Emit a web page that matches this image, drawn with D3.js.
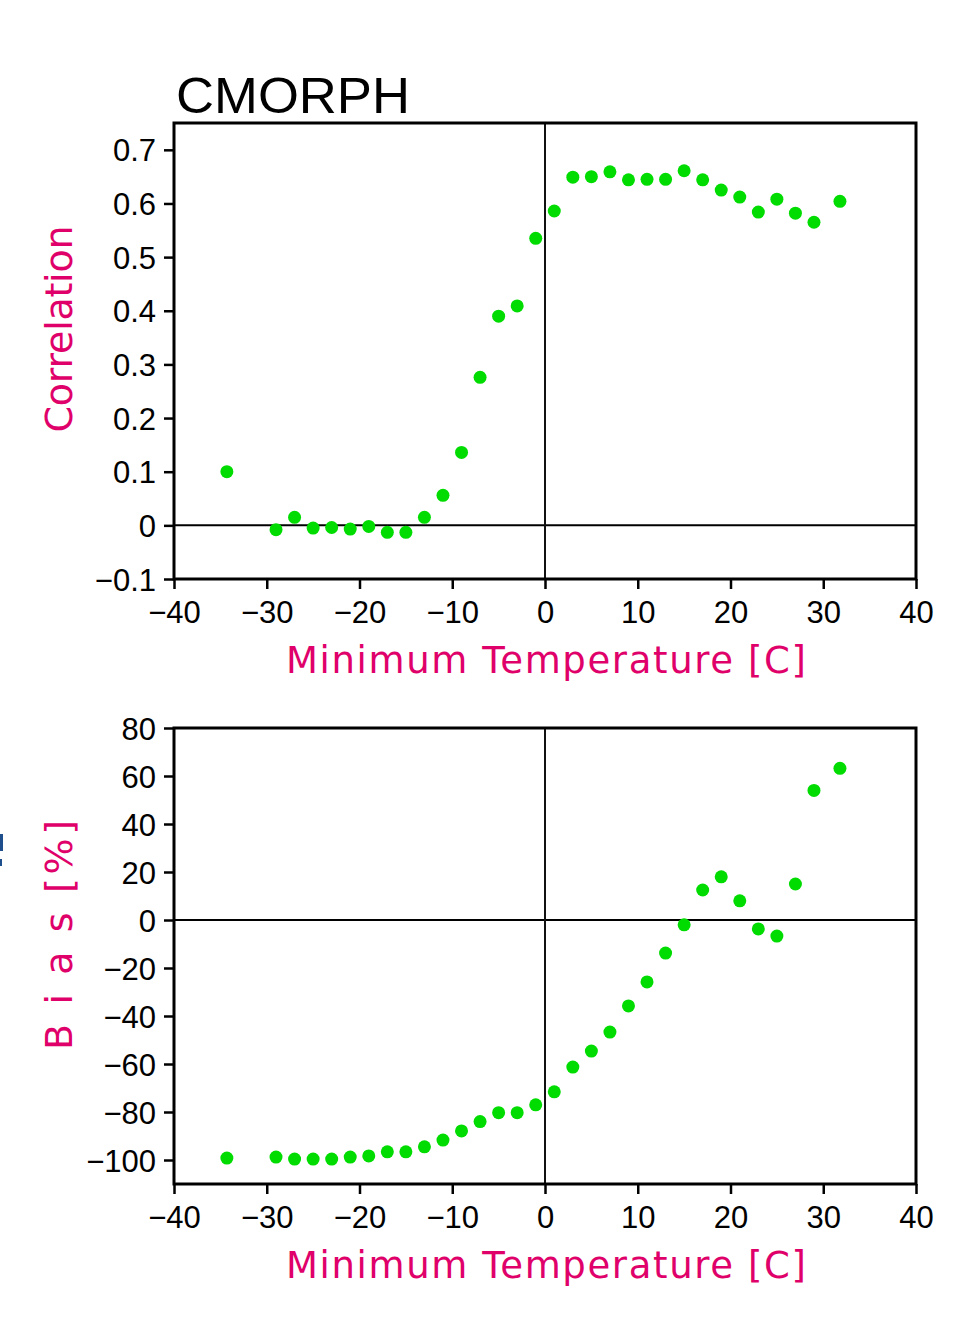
<!DOCTYPE html>
<html>
<head>
<meta charset="utf-8">
<script src="https://cdn.jsdelivr.net/npm/d3@7"></script>
<style>
  body { margin: 0; background: #fff; }
  svg { display: block; }
</style>
</head>
<body>
<div id="graph-container"></div>
<script>

// data
var min_temp = [-34.3, -29, -27, -25, -23, -21, -19, -17, -15, -13, -11, -9, -7, -5, -3, -1,
                1, 3, 5, 7, 9, 11, 13, 15, 17, 19, 21, 23, 25, 27, 29, 31.8];

var correlation = [0.100, -0.008, 0.015, -0.005, -0.004, -0.007, -0.002, -0.013, -0.013, 0.015,
                   0.056, 0.136, 0.276, 0.390, 0.409, 0.535, 0.586, 0.649, 0.650, 0.659,
                   0.644, 0.645, 0.645, 0.661, 0.644, 0.625, 0.612, 0.584, 0.608, 0.582,
                   0.565, 0.604];

var bias = [-99.2, -98.8, -99.6, -99.6, -99.6, -98.8, -98.3, -96.6, -96.6, -94.5,
            -91.7, -87.9, -84.0, -80.3, -80.3, -77.0, -71.6, -61.3, -54.6, -46.7,
            -35.8, -25.8, -13.8, -2.0, 12.5, 18.0, 8.0, -3.7, -6.7, 15.0,
            54.0, 63.2];

var x_ticks = [-40, -30, -20, -10, 0, 10, 20, 30, 40];
var corr_ticks = [-0.1, 0, 0.1, 0.2, 0.3, 0.4, 0.5, 0.6, 0.7];
var bias_ticks = [-100, -80, -60, -40, -20, 0, 20, 40, 60, 80];

var title_text = 'CMORPH';
var x_label = 'Minimum Temperature [C]';

/////////////////////////////////////////////////////////////////////////////
                      ///////    Set Up Chart    ///////
/////////////////////////////////////////////////////////////////////////////

var W = 953, H = 1326;
var label_color = '#e0006a';
var dot_color = '#00dc00';
var tick_font = "'Liberation Sans', Arial, sans-serif";
var label_font = "'DejaVu Sans', sans-serif";

var svg = d3.select('#graph-container').append('svg')
    .attr('xmlns', 'http://www.w3.org/2000/svg')
    .attr('width', W).attr('height', H);

var x = d3.scaleLinear().domain([-40, 40]).range([174, 916]);

var fmt_corr = d => d === 0 ? '0' : d3.format('.1f')(d);
var fmt_bias = d => d3.format('d')(d);

function panel(opts) {
    var y = d3.scaleLinear().domain(opts.domain).range([opts.bottom, opts.top]);
    var g = svg.append('g');

    // x axis
    var xa = g.append('g').attr('transform', `translate(0,${opts.bottom})`)
        .call(d3.axisBottom(x).tickValues(x_ticks).tickSize(10).tickPadding(6).tickSizeOuter(0).tickFormat(d3.format('d')));
    // y axis
    var ya = g.append('g').attr('transform', `translate(${x.range()[0]},0)`)
        .call(d3.axisLeft(y).tickValues(opts.ticks).tickSize(10).tickPadding(8).tickSizeOuter(0).tickFormat(opts.fmt));

    [xa, ya].forEach(a => {
        a.select('.domain').remove();
        a.selectAll('.tick line').attr('stroke', '#000').attr('stroke-width', 2.5);
        a.selectAll('.tick text').attr('fill', '#000')
            .style('font-family', tick_font).style('font-size', '31px');
    });
    xa.selectAll('.tick text').attr('dy', '0.9em');
    ya.selectAll('.tick text').attr('dy', '0.36em');

    // zero lines
    g.append('line').attr('x1', x(-40)).attr('x2', x(40)).attr('y1', y(0)).attr('y2', y(0))
        .attr('stroke', '#000').attr('stroke-width', 2);
    g.append('line').attr('x1', x(0)).attr('x2', x(0)).attr('y1', opts.top).attr('y2', opts.bottom)
        .attr('stroke', '#111').attr('stroke-width', 2);

    // frame
    g.append('rect').attr('x', x(-40)).attr('y', opts.top)
        .attr('width', x(40) - x(-40)).attr('height', opts.bottom - opts.top)
        .attr('fill', 'none').attr('stroke', '#000').attr('stroke-width', 3);

    // points
    g.selectAll('.dot').data(min_temp.map((t, i) => [t, opts.values[i]]))
        .enter().append('circle')
        .attr('class', 'dot')
        .attr('cx', d => x(d[0]))
        .attr('cy', d => y(d[1]))
        .attr('r', 6.5)
        .attr('fill', dot_color);

    // x label
    g.append('text')
        .attr('x', (x(-40) + x(40)) / 2 + 1)
        .attr('y', opts.bottom + 94)
        .attr('text-anchor', 'middle')
        .attr('textLength', 520).attr('lengthAdjust', 'spacing')
        .style('font-family', label_font).style('font-size', '37px')
        .attr('fill', label_color)
        .text(x_label);

    // y label
    g.append('text')
        .attr('transform', `translate(${opts.ylab_x},${opts.ylab_y}) rotate(-90)`)
        .attr('text-anchor', 'middle')
        .attr('textLength', opts.ylab_len).attr('lengthAdjust', 'spacing')
        .style('font-family', label_font).style('font-size', '38px')
        .attr('fill', label_color)
        .text(opts.ylab);

    return g;
}

panel({top: 123, bottom: 579, domain: [-0.1, 0.75], ticks: corr_ticks, fmt: fmt_corr,
       values: correlation, ylab: 'Correlation', ylab_x: 72, ylab_y: 329, ylab_len: 207});

panel({top: 728, bottom: 1184, domain: [-110, 80], ticks: bias_ticks, fmt: fmt_bias,
       values: bias, ylab: 'B i a s [%]', ylab_x: 72, ylab_y: 935, ylab_len: 230});

// title
svg.append('text')
    .attr('x', 176).attr('y', 113)
    .attr('textLength', 234).attr('lengthAdjust', 'spacingAndGlyphs')
    .style('font-family', tick_font).style('font-size', '50px')
    .attr('fill', '#000')
    .text(title_text);

// sliver of a neighbouring panel's label, clipped at the left edge
svg.append('rect').attr('x', 0).attr('y', 834).attr('width', 3).attr('height', 17).attr('fill', '#1f4e8c');
svg.append('rect').attr('x', 0).attr('y', 859).attr('width', 2).attr('height', 7).attr('fill', '#1f4e8c');

</script>
</body>
</html>
